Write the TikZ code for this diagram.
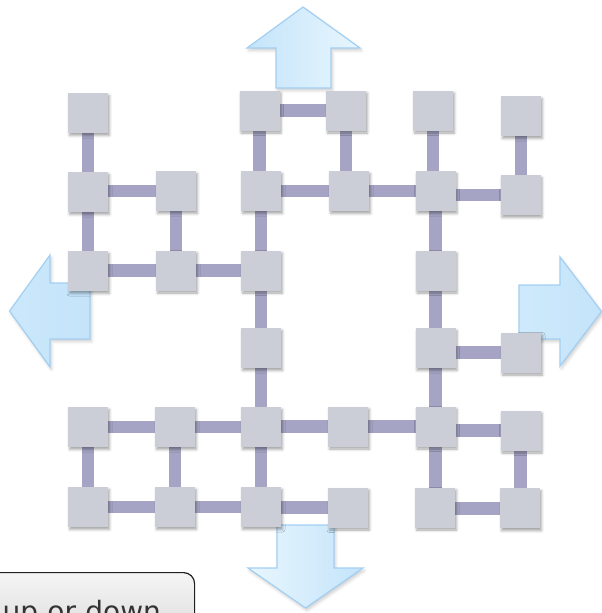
\documentclass[tikz,border=0pt]{standalone}
\usepackage{fontspec}
\newfontfamily\hintfont{DejaVu Sans}
\usetikzlibrary{shadows.blur}

\definecolor{tilegray}{HTML}{CBCDD7}
\definecolor{barlilac}{HTML}{A5A4C4}
\definecolor{arrowedge}{HTML}{A3CFF2}
\definecolor{arrowdeep}{HTML}{C4E4FA}
\definecolor{arrowpale}{HTML}{E8F6FE}
\definecolor{hinttop}{HTML}{F5F5F5}
\definecolor{hintbottom}{HTML}{D6D6D6}

\pgfdeclarelayer{barlayer}
\pgfsetlayers{barlayer,main}

\tikzset{
  tile/.style={fill=tilegray, minimum width=40pt, minimum height=40pt, inner sep=0pt,
    blur shadow={shadow xshift=1.5pt, shadow yshift=-2.5pt, shadow blur radius=2.5pt,
      shadow opacity=35}},
  tilebar/.style={draw=barlilac, line width=12.5pt, shorten <=-2pt, shorten >=-2pt},
  bigarrow/.style={draw=arrowedge, line width=1.2pt, line join=miter,
    blur shadow={shadow xshift=1.5pt, shadow yshift=-2.5pt, shadow blur radius=3pt,
      shadow opacity=20}},
  hintbox/.style={draw=black!88, line width=1.2pt, rounded corners=11pt,
    top color=hinttop, bottom color=hintbottom, text=black!80,
    font=\hintfont\fontsize{28}{32}\selectfont, align=left, text width=178pt,
    inner xsep=14pt, inner ysep=27.5pt, anchor=north west},
}

\begin{document}
\begin{tikzpicture}[x=1pt, y=-1pt]
\useasboundingbox (0,0) rectangle (602,613);

% direction arrows, drawn first so the tiles sit on top
% up
\shade[bigarrow, left color=arrowdeep, right color=arrowpale]
  (303,7) -- (360,48) -- (331,48) -- (331,88) -- (276,88) -- (276,48) -- (247,48) -- cycle;
% left
\shade[bigarrow, left color=arrowdeep!80!arrowpale, right color=arrowdeep]
  (9.5,311) -- (50,255) -- (50,283) -- (90,283) -- (90,339) -- (50,339) -- (50,367) -- cycle;
% right
\shade[bigarrow, left color=arrowdeep!70!arrowpale, right color=arrowdeep]
  (601.5,311.5) -- (560,366) -- (560,339) -- (519,339) -- (519,285) -- (560,285) -- (560,257) -- cycle;
% down
\shade[bigarrow, left color=arrowpale, right color=arrowdeep]
  (305.5,608) -- (248,568) -- (277,568) -- (277,525) -- (334,525) -- (334,568) -- (363,568) -- cycle;

% grid of tiles
\node[tile] (r1c1) at (88,113) {};
\node[tile] (r1c3) at (259.5,110.5) {};
\node[tile] (r1c4) at (346,110.5) {};
\node[tile] (r1c5) at (433,110.5) {};
\node[tile] (r1c6) at (521,116) {};

\node[tile] (r2c1) at (88,192) {};
\node[tile] (r2c2) at (176,191) {};
\node[tile] (r2c3) at (261,191) {};
\node[tile] (r2c4) at (349,191) {};
\node[tile] (r2c5) at (435.5,191) {};
\node[tile] (r2c6) at (520.5,195) {};

\node[tile] (r3c1) at (88,271) {};
\node[tile] (r3c2) at (176,270.5) {};
\node[tile] (r3c3) at (261,270.5) {};
\node[tile] (r3c5) at (435.5,270.5) {};

\node[tile] (r4c3) at (261,348) {};
\node[tile] (r4c5) at (435.5,348) {};
\node[tile] (r4c6) at (521,352.5) {};

\node[tile] (r5c1) at (88,427) {};
\node[tile] (r5c2) at (175,427) {};
\node[tile] (r5c3) at (261,427) {};
\node[tile] (r5c4) at (348,426.5) {};
\node[tile] (r5c5) at (435.5,426.5) {};
\node[tile] (r5c6) at (520.5,430.5) {};

\node[tile] (r6c1) at (88,507) {};
\node[tile] (r6c2) at (175,507) {};
\node[tile] (r6c3) at (261,507) {};
\node[tile] (r6c4) at (348,507.5) {};
\node[tile] (r6c5) at (435,507.5) {};
\node[tile] (r6c6) at (520,508.3) {};

% connecting bars, behind the tiles; vertical bars run straight down
% from the upper tile, horizontal bars to the right-hand tile's height
\begin{pgfonlayer}{barlayer}
  % vertical
  \draw[tilebar] (r1c1) -- (r1c1 |- r2c1);
  \draw[tilebar] (r2c1) -- (r2c1 |- r3c1);
  \draw[tilebar] (r5c1) -- (r5c1 |- r6c1);
  \draw[tilebar] (r2c2) -- (r2c2 |- r3c2);
  \draw[tilebar] (r5c2) -- (r5c2 |- r6c2);
  \draw[tilebar] (r1c3) -- (r1c3 |- r2c3);
  \draw[tilebar] (r2c3) -- (r2c3 |- r3c3);
  \draw[tilebar] (r3c3) -- (r3c3 |- r4c3);
  \draw[tilebar] (r4c3) -- (r4c3 |- r5c3);
  \draw[tilebar] (r5c3) -- (r5c3 |- r6c3);
  \draw[tilebar] (r1c4) -- (r1c4 |- r2c4);
  \draw[tilebar] (r1c5) -- (r1c5 |- r2c5);
  \draw[tilebar] (r2c5) -- (r2c5 |- r3c5);
  \draw[tilebar] (r3c5) -- (r3c5 |- r4c5);
  \draw[tilebar] (r4c5) -- (r4c5 |- r5c5);
  \draw[tilebar] (r5c5) -- (r5c5 |- r6c5);
  \draw[tilebar] (r1c6) -- (r1c6 |- r2c6);
  \draw[tilebar] (r5c6) -- (r5c6 |- r6c6);
  % horizontal
  \draw[tilebar] (r1c4 -| r1c3) -- (r1c4);
  \draw[tilebar] (r2c2 -| r2c1) -- (r2c2);
  \draw[tilebar] (r2c4 -| r2c3) -- (r2c4);
  \draw[tilebar] (r2c5 -| r2c4) -- (r2c5);
  \draw[tilebar] (r2c6 -| r2c5) -- (r2c6);
  \draw[tilebar] (r3c2 -| r3c1) -- (r3c2);
  \draw[tilebar] (r3c3 -| r3c2) -- (r3c3);
  \draw[tilebar] (r4c6 -| r4c5) -- (r4c6);
  \draw[tilebar] (r5c2 -| r5c1) -- (r5c2);
  \draw[tilebar] (r5c3 -| r5c2) -- (r5c3);
  \draw[tilebar] (r5c4 -| r5c3) -- (r5c4);
  \draw[tilebar] (r5c5 -| r5c4) -- (r5c5);
  \draw[tilebar] (r5c6 -| r5c5) -- (r5c6);
  \draw[tilebar] (r6c2 -| r6c1) -- (r6c2);
  \draw[tilebar] (r6c3 -| r6c2) -- (r6c3);
  \draw[tilebar] (r6c4 -| r6c3) -- (r6c4);
  \draw[tilebar] (r6c6 -| r6c5) -- (r6c6);
\end{pgfonlayer}

% hint label
\node[hintbox] (hint) at (-12,572) {up or down};
\end{tikzpicture}
\end{document}
